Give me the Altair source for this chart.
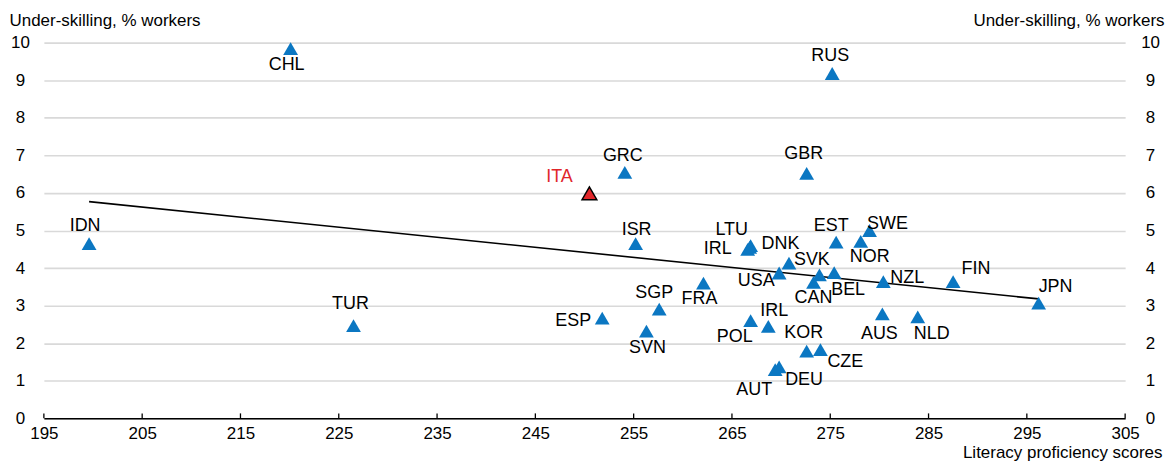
import altair as alt
import numpy as np
import pandas as pd

# ---- data ----
countries = ["IDN", "CHL", "TUR", "ESP", "ITA", "GRC", "ISR", "SGP", "SVN", "FRA",
             "IRL", "LTU", "DNK", "USA", "SVK", "CAN", "", "BEL", "EST", "NOR",
             "SWE", "NZL", "POL", "IRL", "KOR", "CZE", "AUT", "DEU", "AUS", "NLD",
             "FIN", "JPN", "RUS", "GBR"]
literacy = [199.6, 220.1, 226.5, 251.8, 250.5, 254.1, 255.2, 257.6, 256.3, 262.1,
            266.6, 266.9, 266.8, 269.8, 270.8, 273.3, 273.9, 275.4, 275.6, 278.1,
            279.0, 280.4, 266.9, 268.7, 272.6, 274.0, 269.4, 269.8, 280.3, 283.9,
            287.5, 296.2, 275.2, 272.6]
underskilling = [4.65, 9.84, 2.47, 2.67, 5.99, 6.55, 4.65, 2.91, 2.32, 3.60,
                 4.50, 4.60, 4.55, 3.87, 4.13, 3.62, 3.82, 3.88, 4.69, 4.71,
                 5.00, 3.64, 2.60, 2.45, 1.79, 1.83, 1.30, 1.37, 2.78, 2.70,
                 3.64, 3.07, 9.18, 6.52]
trend_literacy = [199.6, 296.2]
trend_underskilling = [5.77, 3.18]
x_tick_values = list(range(195, 306, 10))
y_tick_values = list(range(0, 11))
highlight = "ITA"

# ---- label placement (pixel offsets from each marker, layout only) ----
label_dx = [-4, -4, -3, -29, -30, -2, 1, -5, 1, -4,
            -30, -19, 31, -23, 23, 0, 0, 14, -5, 9,
            18, 24, -16, 6, -3, 25, -21, 25, -3, 14,
            23, 17, -2, -3]
label_dy = [-18, 16, -22, 3, -16, -16, -14, -16, 17, 16,
            0, -16, -3, 8, -3, 16, 0, 17, -16, 16,
            -7, -4, 16, -15, -18, 12, 21, 13, 20, 17,
            -13, -16, -18, -19]

W, H = 1085, 377
X_DOMAIN = [195, 305]
Y_DOMAIN = [0, 10]
px_per_x = W / (X_DOMAIN[1] - X_DOMAIN[0])
px_per_y = H / (Y_DOMAIN[1] - Y_DOMAIN[0])

df = pd.DataFrame({"country": countries, "literacy": literacy, "under": underskilling})
df["group"] = np.where(df["country"] == highlight, "hl", "base")
df["lx"] = df["literacy"] + np.array(label_dx) / px_per_x
df["ly"] = df["under"] - np.array(label_dy) / px_per_y

trend = pd.DataFrame({"literacy": trend_literacy, "under": trend_underskilling})
ticks_df = pd.DataFrame({"tick": x_tick_values})

FONT = "Liberation Sans"
BLUE = "#0B77C2"
RED = "#E0262A"
TXT = "#000000"

x_scale = alt.Scale(domain=X_DOMAIN, nice=False, zero=False)
y_scale = alt.Scale(domain=Y_DOMAIN, nice=False, zero=False)

x_axis = alt.Axis(values=x_tick_values, title="Literacy proficiency scores",
                  titleFont=FONT, titleFontSize=17, titleFontWeight="normal", titleColor=TXT,
                  titleAlign="right", titleBaseline="middle", titleX=1122, titleY=34,
                  labelFont=FONT, labelFontSize=17, labelColor=TXT, labelPadding=7,
                  labelFlush=False, ticks=False, grid=False,
                  domainColor="#000000", domainWidth=1.5)

left_axis = alt.Axis(values=y_tick_values, title="Under-skilling, % workers",
                     titleFont=FONT, titleFontSize=17, titleFontWeight="normal", titleColor=TXT,
                     titleAngle=0, titleAlign="left", titleBaseline="middle",
                     titleX=-35, titleY=-22,
                     labelFont=FONT, labelFontSize=17, labelColor=TXT,
                     labelAlign="center", labelBaseline="middle", labelPadding=24,
                     ticks=False, domain=False, grid=True,
                     gridColor="#d9d9d9", gridWidth=1.6)

right_axis = alt.Axis(values=y_tick_values, orient="right", title="Under-skilling, % workers",
                      titleFont=FONT, titleFontSize=17, titleFontWeight="normal", titleColor=TXT,
                      titleAngle=0, titleAlign="right", titleBaseline="middle",
                      titleX=39, titleY=-22,
                      labelFont=FONT, labelFontSize=17, labelColor=TXT,
                      labelAlign="center", labelBaseline="middle", labelPadding=25,
                      ticks=False, domain=False, grid=False)

tick_marks = alt.Chart(ticks_df).mark_rule(color="#000000", strokeWidth=1.3).encode(
    x=alt.X("tick:Q", scale=x_scale, axis=x_axis),
    y=alt.value(H - 5),
    y2=alt.value(H),
)

line = alt.Chart(trend).mark_line(color="#000000", strokeWidth=1.6).encode(
    x=alt.X("literacy:Q", scale=x_scale, axis=x_axis),
    y=alt.Y("under:Q", scale=y_scale, axis=None),
)

points = alt.Chart(df).mark_point(shape="triangle-up", filled=True, size=220, opacity=1,
                                  stroke="#000000").encode(
    x=alt.X("literacy:Q", scale=x_scale, axis=x_axis),
    y=alt.Y("under:Q", scale=y_scale, axis=left_axis),
    fill=alt.Fill("group:N", scale=alt.Scale(domain=["base", "hl"], range=[BLUE, RED]), legend=None),
    strokeWidth=alt.condition(alt.datum.group == "hl", alt.value(1.5), alt.value(0)),
)

labels = alt.Chart(df).mark_text(font=FONT, fontSize=18, align="center", baseline="middle").encode(
    x=alt.X("lx:Q", scale=x_scale, axis=x_axis),
    y=alt.Y("ly:Q", scale=y_scale, axis=right_axis),
    text="country:N",
    color=alt.Color("group:N", scale=alt.Scale(domain=["base", "hl"], range=[TXT, RED]), legend=None),
)

chart = alt.layer(tick_marks, line, points, labels).resolve_axis(y="independent").properties(
    width=W, height=H,
    padding={"left": 36, "top": 34, "right": 40, "bottom": 46},
    autosize=alt.AutoSizeParams(type="none"),
    background="#ffffff",
).configure_view(strokeWidth=0)

chart.save("out.html", embed_options={"renderer": "svg", "actions": False})
